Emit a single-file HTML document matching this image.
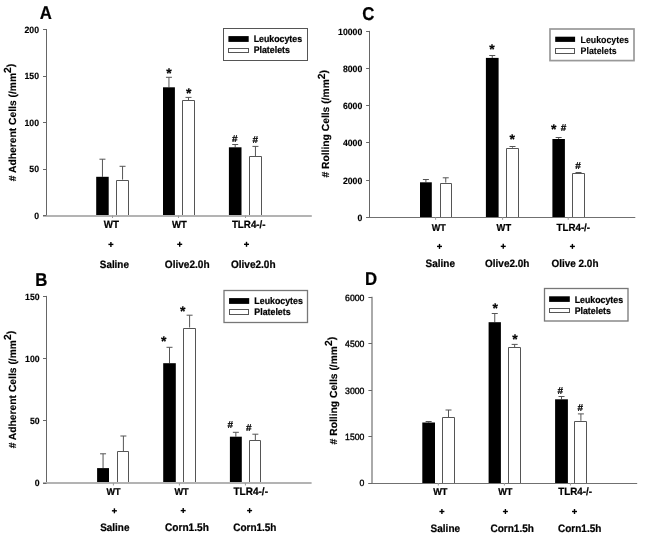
<!DOCTYPE html>
<html><head><meta charset="utf-8"><style>
html,body{margin:0;padding:0;background:#fff;}
svg{display:block;will-change:transform;}
text{font-family:"Liberation Sans", sans-serif;text-rendering:geometricPrecision;stroke:#000;stroke-width:0.22px;stroke-linejoin:round;}
</style></head><body>
<svg width="646" height="537" viewBox="0 0 646 537" font-family='"Liberation Sans", sans-serif'>
<rect width="646" height="537" fill="#fff"/>
<line x1="102.45" y1="176.80" x2="102.45" y2="159.20" stroke="#555" stroke-width="1"/>
<line x1="99.45" y1="159.20" x2="105.45" y2="159.20" stroke="#555" stroke-width="1"/>
<line x1="122.55" y1="179.60" x2="122.55" y2="166.30" stroke="#555" stroke-width="1"/>
<line x1="119.55" y1="166.30" x2="125.55" y2="166.30" stroke="#555" stroke-width="1"/>
<rect x="96.20" y="176.80" width="12.50" height="38.70" fill="#000"/>
<rect x="116.50" y="180.50" width="12.00" height="35.00" fill="#fff"/>
<path d="M116.50,216.00V180.50H128.50V216.00" fill="none" stroke="#555" stroke-width="1"/>
<line x1="168.95" y1="87.30" x2="168.95" y2="77.30" stroke="#555" stroke-width="1"/>
<line x1="165.95" y1="77.30" x2="171.95" y2="77.30" stroke="#555" stroke-width="1"/>
<line x1="188.50" y1="100.30" x2="188.50" y2="97.40" stroke="#555" stroke-width="1"/>
<line x1="185.50" y1="97.40" x2="191.50" y2="97.40" stroke="#555" stroke-width="1"/>
<rect x="163.00" y="87.30" width="11.90" height="128.20" fill="#000"/>
<rect x="182.50" y="100.50" width="12.00" height="115.00" fill="#fff"/>
<path d="M182.50,216.00V100.50H194.50V216.00" fill="none" stroke="#555" stroke-width="1"/>
<line x1="235.20" y1="147.30" x2="235.20" y2="144.50" stroke="#555" stroke-width="1"/>
<line x1="232.20" y1="144.50" x2="238.20" y2="144.50" stroke="#555" stroke-width="1"/>
<line x1="255.45" y1="156.50" x2="255.45" y2="146.40" stroke="#555" stroke-width="1"/>
<line x1="252.45" y1="146.40" x2="258.45" y2="146.40" stroke="#555" stroke-width="1"/>
<rect x="228.90" y="147.30" width="12.60" height="68.20" fill="#000"/>
<rect x="249.50" y="156.50" width="12.00" height="59.00" fill="#fff"/>
<path d="M249.50,216.00V156.50H261.50V216.00" fill="none" stroke="#555" stroke-width="1"/>
<line x1="46.50" y1="29.00" x2="46.50" y2="216.00" stroke="#666" stroke-width="1"/>
<line x1="43.00" y1="216.00" x2="311.80" y2="216.00" stroke="#b3b3b3" stroke-width="2"/>
<line x1="43.00" y1="215.50" x2="46.50" y2="215.50" stroke="#666" stroke-width="1"/>
<text transform="translate(34.18,218.90) scale(1,1.05)" font-size="8.70" font-weight="bold" style="stroke-width:0.15px">0</text>
<line x1="43.00" y1="169.50" x2="46.50" y2="169.50" stroke="#666" stroke-width="1"/>
<text transform="translate(29.34,172.40) scale(1,1.05)" font-size="8.70" font-weight="bold" style="stroke-width:0.15px">50</text>
<line x1="43.00" y1="122.50" x2="46.50" y2="122.50" stroke="#666" stroke-width="1"/>
<text transform="translate(24.50,125.90) scale(1,1.05)" font-size="8.70" font-weight="bold" style="stroke-width:0.15px">100</text>
<line x1="43.00" y1="76.50" x2="46.50" y2="76.50" stroke="#666" stroke-width="1"/>
<text transform="translate(24.50,79.40) scale(1,1.05)" font-size="8.70" font-weight="bold" style="stroke-width:0.15px">150</text>
<line x1="43.00" y1="29.50" x2="46.50" y2="29.50" stroke="#666" stroke-width="1"/>
<text transform="translate(24.50,32.90) scale(1,1.05)" font-size="8.70" font-weight="bold" style="stroke-width:0.15px">200</text>
<line x1="112.50" y1="215.50" x2="112.50" y2="218.00" stroke="#999" stroke-width="1"/>
<line x1="178.50" y1="215.50" x2="178.50" y2="218.00" stroke="#999" stroke-width="1"/>
<line x1="245.50" y1="215.50" x2="245.50" y2="218.00" stroke="#999" stroke-width="1"/>
<text x="166.27" y="77.54" font-size="14.00" font-weight="bold">*</text>
<text x="186.02" y="97.54" font-size="14.00" font-weight="bold">*</text>
<text x="231.95" y="142.10" font-size="10.00" font-weight="bold">#</text>
<text x="252.45" y="142.80" font-size="10.00" font-weight="bold">#</text>
<rect x="223.50" y="28.50" width="84.00" height="32.00" fill="#fff" stroke="#555" stroke-width="1"/>
<rect x="228.40" y="36.10" width="20.30" height="5.80" fill="#000"/>
<rect x="228.50" y="48.50" width="20.00" height="4.00" fill="#fff" stroke="#555" stroke-width="1"/>
<text transform="translate(253.67,42.00) scale(1,1.08)" font-size="8.80" font-weight="bold">Leukocytes</text>
<text transform="translate(253.67,53.00) scale(1,1.08)" font-size="8.80" font-weight="bold">Platelets</text>
<text transform="translate(103.80,228.00) scale(1,1.08)" font-size="9.78" font-weight="bold">WT</text>
<text transform="translate(172.00,228.00) scale(1,1.08)" font-size="9.52" font-weight="bold">WT</text>
<text transform="translate(231.90,228.00) scale(1,1.08)" font-size="9.79" font-weight="bold">TLR4-/-</text>
<text transform="translate(99.80,267.60) scale(1,1.08)" font-size="9.90" font-weight="bold">Saline</text>
<text transform="translate(164.80,267.60) scale(1,1.08)" font-size="10.08" font-weight="bold">Olive2.0h</text>
<text transform="translate(230.90,267.60) scale(1,1.08)" font-size="10.06" font-weight="bold">Olive2.0h</text>
<line x1="108.40" y1="244.40" x2="113.40" y2="244.40" stroke="#000" stroke-width="1.4"/>
<line x1="110.90" y1="241.90" x2="110.90" y2="246.90" stroke="#000" stroke-width="1.4"/>
<line x1="177.20" y1="244.30" x2="182.20" y2="244.30" stroke="#000" stroke-width="1.4"/>
<line x1="179.70" y1="241.80" x2="179.70" y2="246.80" stroke="#000" stroke-width="1.4"/>
<line x1="244.00" y1="244.30" x2="249.00" y2="244.30" stroke="#000" stroke-width="1.4"/>
<line x1="246.50" y1="241.80" x2="246.50" y2="246.80" stroke="#000" stroke-width="1.4"/>
<text transform="translate(39.76,18.60) scale(1,1.1)" font-size="16.80" font-weight="bold">A</text>
<text transform="translate(16.00,122.50) rotate(-90)" text-anchor="middle" font-size="10.3" font-weight="bold" style="stroke-width:0.15px"># Adherent Cells (/mm<tspan font-size="10.3" dy="-4.8">2</tspan><tspan font-size="10.3" dy="2.3">)</tspan></text>
<line x1="425.90" y1="182.30" x2="425.90" y2="179.50" stroke="#555" stroke-width="1"/>
<line x1="422.90" y1="179.50" x2="428.90" y2="179.50" stroke="#555" stroke-width="1"/>
<line x1="445.75" y1="182.60" x2="445.75" y2="177.80" stroke="#555" stroke-width="1"/>
<line x1="442.75" y1="177.80" x2="448.75" y2="177.80" stroke="#555" stroke-width="1"/>
<rect x="420.00" y="182.30" width="11.80" height="35.00" fill="#000"/>
<rect x="440.50" y="183.50" width="11.00" height="33.80" fill="#fff"/>
<path d="M440.50,217.50V183.50H451.50V217.50" fill="none" stroke="#555" stroke-width="1"/>
<line x1="492.25" y1="57.90" x2="492.25" y2="55.50" stroke="#555" stroke-width="1"/>
<line x1="489.25" y1="55.50" x2="495.25" y2="55.50" stroke="#555" stroke-width="1"/>
<line x1="512.50" y1="147.70" x2="512.50" y2="146.50" stroke="#555" stroke-width="1"/>
<line x1="509.50" y1="146.50" x2="515.50" y2="146.50" stroke="#555" stroke-width="1"/>
<rect x="485.90" y="57.90" width="12.70" height="159.40" fill="#000"/>
<rect x="506.50" y="148.50" width="12.00" height="68.80" fill="#fff"/>
<path d="M506.50,217.50V148.50H518.50V217.50" fill="none" stroke="#555" stroke-width="1"/>
<line x1="558.65" y1="139.00" x2="558.65" y2="137.50" stroke="#555" stroke-width="1"/>
<line x1="555.65" y1="137.50" x2="561.65" y2="137.50" stroke="#555" stroke-width="1"/>
<line x1="578.50" y1="173.30" x2="578.50" y2="172.50" stroke="#555" stroke-width="1"/>
<line x1="575.50" y1="172.50" x2="581.50" y2="172.50" stroke="#555" stroke-width="1"/>
<rect x="552.40" y="139.00" width="12.50" height="78.30" fill="#000"/>
<rect x="572.50" y="173.50" width="12.00" height="43.80" fill="#fff"/>
<path d="M572.50,217.50V173.50H584.50V217.50" fill="none" stroke="#555" stroke-width="1"/>
<line x1="369.50" y1="30.90" x2="369.50" y2="217.50" stroke="#666" stroke-width="1"/>
<line x1="366.10" y1="217.50" x2="635.30" y2="217.50" stroke="#707070" stroke-width="1"/>
<line x1="366.10" y1="217.50" x2="369.50" y2="217.50" stroke="#666" stroke-width="1"/>
<text transform="translate(357.48,220.70) scale(1,1.05)" font-size="8.70" font-weight="bold" style="stroke-width:0.15px">0</text>
<line x1="366.10" y1="180.50" x2="369.50" y2="180.50" stroke="#666" stroke-width="1"/>
<text transform="translate(342.96,183.52) scale(1,1.05)" font-size="8.70" font-weight="bold" style="stroke-width:0.15px">2000</text>
<line x1="366.10" y1="142.50" x2="369.50" y2="142.50" stroke="#666" stroke-width="1"/>
<text transform="translate(342.96,146.34) scale(1,1.05)" font-size="8.70" font-weight="bold" style="stroke-width:0.15px">4000</text>
<line x1="366.10" y1="105.50" x2="369.50" y2="105.50" stroke="#666" stroke-width="1"/>
<text transform="translate(342.96,109.16) scale(1,1.05)" font-size="8.70" font-weight="bold" style="stroke-width:0.15px">6000</text>
<line x1="366.10" y1="68.50" x2="369.50" y2="68.50" stroke="#666" stroke-width="1"/>
<text transform="translate(342.96,71.98) scale(1,1.05)" font-size="8.70" font-weight="bold" style="stroke-width:0.15px">8000</text>
<line x1="366.10" y1="31.50" x2="369.50" y2="31.50" stroke="#666" stroke-width="1"/>
<text transform="translate(338.12,34.80) scale(1,1.05)" font-size="8.70" font-weight="bold" style="stroke-width:0.15px">10000</text>
<line x1="435.60" y1="217.30" x2="435.60" y2="219.80" stroke="#999" stroke-width="1"/>
<line x1="502.60" y1="217.30" x2="502.60" y2="219.80" stroke="#999" stroke-width="1"/>
<line x1="568.20" y1="217.30" x2="568.20" y2="219.80" stroke="#999" stroke-width="1"/>
<text x="489.27" y="54.44" font-size="14.00" font-weight="bold">*</text>
<text x="509.57" y="144.44" font-size="14.00" font-weight="bold">*</text>
<text x="550.92" y="134.34" font-size="14.00" font-weight="bold">*</text>
<text x="560.85" y="130.80" font-size="10.00" font-weight="bold">#</text>
<text x="575.20" y="168.50" font-size="10.00" font-weight="bold">#</text>
<rect x="550.00" y="29.00" width="84.00" height="31.60" fill="#fff" stroke="#999" stroke-width="1.7"/>
<rect x="555.20" y="36.70" width="19.90" height="5.20" fill="#000"/>
<rect x="555.50" y="48.50" width="19.00" height="5.00" fill="#fff" stroke="#555" stroke-width="1"/>
<text transform="translate(580.57,42.50) scale(1,1.08)" font-size="8.80" font-weight="bold" style="stroke-width:0.1px">Leukocytes</text>
<text transform="translate(580.57,53.70) scale(1,1.08)" font-size="8.80" font-weight="bold" style="stroke-width:0.1px">Platelets</text>
<text transform="translate(431.80,230.70) scale(1,1.08)" font-size="9.07" font-weight="bold">WT</text>
<text transform="translate(496.60,230.70) scale(1,1.08)" font-size="9.33" font-weight="bold">WT</text>
<text transform="translate(556.50,230.50) scale(1,1.08)" font-size="9.76" font-weight="bold">TLR4-/-</text>
<text transform="translate(425.60,266.80) scale(1,1.08)" font-size="9.97" font-weight="bold">Saline</text>
<text transform="translate(485.10,266.80) scale(1,1.08)" font-size="9.96" font-weight="bold">Olive2.0h</text>
<text transform="translate(551.50,266.80) scale(1,1.08)" font-size="9.95" font-weight="bold">Olive 2.0h</text>
<line x1="437.00" y1="246.40" x2="442.00" y2="246.40" stroke="#000" stroke-width="1.4"/>
<line x1="439.50" y1="243.90" x2="439.50" y2="248.90" stroke="#000" stroke-width="1.4"/>
<line x1="500.75" y1="246.35" x2="505.75" y2="246.35" stroke="#000" stroke-width="1.4"/>
<line x1="503.25" y1="243.85" x2="503.25" y2="248.85" stroke="#000" stroke-width="1.4"/>
<line x1="569.90" y1="246.40" x2="574.90" y2="246.40" stroke="#000" stroke-width="1.4"/>
<line x1="572.40" y1="243.90" x2="572.40" y2="248.90" stroke="#000" stroke-width="1.4"/>
<text transform="translate(362.13,19.80) scale(1,1.1)" font-size="16.80" font-weight="bold">C</text>
<text transform="translate(329.30,123.80) rotate(-90)" text-anchor="middle" font-size="10.3" font-weight="bold" style="stroke-width:0.15px"># Rolling Cells (/mm<tspan font-size="10.3" dy="-4.8">2</tspan><tspan font-size="10.3" dy="2.3">)</tspan></text>
<line x1="103.05" y1="468.10" x2="103.05" y2="453.80" stroke="#555" stroke-width="1"/>
<line x1="100.05" y1="453.80" x2="106.05" y2="453.80" stroke="#555" stroke-width="1"/>
<line x1="123.40" y1="451.40" x2="123.40" y2="436.00" stroke="#555" stroke-width="1"/>
<line x1="120.40" y1="436.00" x2="126.40" y2="436.00" stroke="#555" stroke-width="1"/>
<rect x="97.10" y="468.10" width="11.90" height="14.90" fill="#000"/>
<rect x="117.50" y="451.50" width="11.00" height="31.50" fill="#fff"/>
<path d="M117.50,483.00V451.50H128.50V483.00" fill="none" stroke="#555" stroke-width="1"/>
<line x1="169.50" y1="363.20" x2="169.50" y2="347.30" stroke="#555" stroke-width="1"/>
<line x1="166.50" y1="347.30" x2="172.50" y2="347.30" stroke="#555" stroke-width="1"/>
<line x1="189.60" y1="327.50" x2="189.60" y2="315.20" stroke="#555" stroke-width="1"/>
<line x1="186.60" y1="315.20" x2="192.60" y2="315.20" stroke="#555" stroke-width="1"/>
<rect x="163.20" y="363.20" width="12.60" height="119.80" fill="#000"/>
<rect x="183.50" y="328.50" width="12.00" height="154.50" fill="#fff"/>
<path d="M183.50,483.00V328.50H195.50V483.00" fill="none" stroke="#555" stroke-width="1"/>
<line x1="235.85" y1="436.70" x2="235.85" y2="432.30" stroke="#555" stroke-width="1"/>
<line x1="232.85" y1="432.30" x2="238.85" y2="432.30" stroke="#555" stroke-width="1"/>
<line x1="255.35" y1="440.20" x2="255.35" y2="434.20" stroke="#555" stroke-width="1"/>
<line x1="252.35" y1="434.20" x2="258.35" y2="434.20" stroke="#555" stroke-width="1"/>
<rect x="229.90" y="436.70" width="11.90" height="46.30" fill="#000"/>
<rect x="249.50" y="440.50" width="11.00" height="42.50" fill="#fff"/>
<path d="M249.50,483.00V440.50H260.50V483.00" fill="none" stroke="#555" stroke-width="1"/>
<line x1="46.50" y1="295.90" x2="46.50" y2="483.00" stroke="#666" stroke-width="1"/>
<line x1="43.00" y1="483.00" x2="311.60" y2="483.00" stroke="#b3b3b3" stroke-width="2"/>
<line x1="43.00" y1="483.50" x2="46.50" y2="483.50" stroke="#666" stroke-width="1"/>
<text transform="translate(34.78,486.40) scale(1,1.05)" font-size="8.70" font-weight="bold" style="stroke-width:0.15px">0</text>
<line x1="43.00" y1="420.50" x2="46.50" y2="420.50" stroke="#666" stroke-width="1"/>
<text transform="translate(29.94,424.20) scale(1,1.05)" font-size="8.70" font-weight="bold" style="stroke-width:0.15px">50</text>
<line x1="43.00" y1="358.50" x2="46.50" y2="358.50" stroke="#666" stroke-width="1"/>
<text transform="translate(25.10,362.00) scale(1,1.05)" font-size="8.70" font-weight="bold" style="stroke-width:0.15px">100</text>
<line x1="43.00" y1="296.50" x2="46.50" y2="296.50" stroke="#666" stroke-width="1"/>
<text transform="translate(25.10,299.80) scale(1,1.05)" font-size="8.70" font-weight="bold" style="stroke-width:0.15px">150</text>
<line x1="113.40" y1="483.00" x2="113.40" y2="485.50" stroke="#999" stroke-width="1"/>
<line x1="179.40" y1="483.00" x2="179.40" y2="485.50" stroke="#999" stroke-width="1"/>
<line x1="245.40" y1="483.00" x2="245.40" y2="485.50" stroke="#999" stroke-width="1"/>
<text x="161.07" y="346.04" font-size="14.00" font-weight="bold">*</text>
<text x="180.02" y="316.24" font-size="14.00" font-weight="bold">*</text>
<text x="227.50" y="428.40" font-size="10.00" font-weight="bold">#</text>
<text x="246.05" y="431.20" font-size="10.00" font-weight="bold">#</text>
<rect x="224.00" y="290.50" width="83.50" height="32.00" fill="#fff" stroke="#777" stroke-width="1.3"/>
<rect x="229.05" y="298.10" width="20.15" height="5.80" fill="#000"/>
<rect x="229.50" y="309.50" width="19.00" height="5.00" fill="#fff" stroke="#555" stroke-width="1"/>
<text transform="translate(254.37,304.00) scale(1,1.08)" font-size="8.80" font-weight="bold">Leukocytes</text>
<text transform="translate(254.37,315.20) scale(1,1.08)" font-size="8.80" font-weight="bold">Platelets</text>
<text transform="translate(106.40,494.90) scale(1,1.08)" font-size="9.07" font-weight="bold">WT</text>
<text transform="translate(174.40,494.90) scale(1,1.08)" font-size="9.20" font-weight="bold">WT</text>
<text transform="translate(233.50,494.90) scale(1,1.08)" font-size="10.03" font-weight="bold">TLR4-/-</text>
<text transform="translate(100.20,531.10) scale(1,1.08)" font-size="9.93" font-weight="bold">Saline</text>
<text transform="translate(164.99,531.10) scale(1,1.08)" font-size="10.13" font-weight="bold">Corn1.5h</text>
<text transform="translate(233.20,531.10) scale(1,1.08)" font-size="9.99" font-weight="bold">Corn1.5h</text>
<line x1="111.90" y1="510.80" x2="116.90" y2="510.80" stroke="#000" stroke-width="1.4"/>
<line x1="114.40" y1="508.30" x2="114.40" y2="513.30" stroke="#000" stroke-width="1.4"/>
<line x1="180.70" y1="510.60" x2="185.70" y2="510.60" stroke="#000" stroke-width="1.4"/>
<line x1="183.20" y1="508.10" x2="183.20" y2="513.10" stroke="#000" stroke-width="1.4"/>
<line x1="247.10" y1="510.60" x2="252.10" y2="510.60" stroke="#000" stroke-width="1.4"/>
<line x1="249.60" y1="508.10" x2="249.60" y2="513.10" stroke="#000" stroke-width="1.4"/>
<text transform="translate(35.19,285.70) scale(1,1.1)" font-size="16.80" font-weight="bold">B</text>
<text transform="translate(16.00,389.60) rotate(-90)" text-anchor="middle" font-size="10.3" font-weight="bold" style="stroke-width:0.15px"># Adherent Cells (/mm<tspan font-size="10.3" dy="-4.8">2</tspan><tspan font-size="10.3" dy="2.3">)</tspan></text>
<line x1="428.65" y1="422.50" x2="428.65" y2="421.50" stroke="#555" stroke-width="1"/>
<line x1="425.65" y1="421.50" x2="431.65" y2="421.50" stroke="#555" stroke-width="1"/>
<line x1="448.50" y1="417.30" x2="448.50" y2="410.00" stroke="#555" stroke-width="1"/>
<line x1="445.50" y1="410.00" x2="451.50" y2="410.00" stroke="#555" stroke-width="1"/>
<rect x="422.30" y="422.50" width="12.70" height="60.50" fill="#000"/>
<rect x="442.50" y="417.50" width="12.00" height="65.50" fill="#fff"/>
<path d="M442.50,483.50V417.50H454.50V483.50" fill="none" stroke="#555" stroke-width="1"/>
<line x1="494.75" y1="322.20" x2="494.75" y2="313.50" stroke="#555" stroke-width="1"/>
<line x1="491.75" y1="313.50" x2="497.75" y2="313.50" stroke="#555" stroke-width="1"/>
<line x1="514.65" y1="347.30" x2="514.65" y2="344.40" stroke="#555" stroke-width="1"/>
<line x1="511.65" y1="344.40" x2="517.65" y2="344.40" stroke="#555" stroke-width="1"/>
<rect x="488.60" y="322.20" width="12.30" height="160.80" fill="#000"/>
<rect x="508.50" y="347.50" width="12.00" height="135.50" fill="#fff"/>
<path d="M508.50,483.50V347.50H520.50V483.50" fill="none" stroke="#555" stroke-width="1"/>
<line x1="561.50" y1="399.30" x2="561.50" y2="396.50" stroke="#555" stroke-width="1"/>
<line x1="558.50" y1="396.50" x2="564.50" y2="396.50" stroke="#555" stroke-width="1"/>
<line x1="580.90" y1="420.80" x2="580.90" y2="413.90" stroke="#555" stroke-width="1"/>
<line x1="577.90" y1="413.90" x2="583.90" y2="413.90" stroke="#555" stroke-width="1"/>
<rect x="555.10" y="399.30" width="12.80" height="83.70" fill="#000"/>
<rect x="574.50" y="421.50" width="12.00" height="61.50" fill="#fff"/>
<path d="M574.50,483.50V421.50H586.50V483.50" fill="none" stroke="#555" stroke-width="1"/>
<line x1="372.00" y1="296.70" x2="372.00" y2="483.50" stroke="#aaa" stroke-width="2"/>
<line x1="368.40" y1="483.50" x2="637.20" y2="483.50" stroke="#707070" stroke-width="1"/>
<line x1="368.40" y1="483.50" x2="372.00" y2="483.50" stroke="#666" stroke-width="1"/>
<text transform="translate(359.58,486.40) scale(1,1.05)" font-size="8.70" font-weight="normal" style="stroke-width:0.35px">0</text>
<line x1="368.40" y1="436.50" x2="372.00" y2="436.50" stroke="#666" stroke-width="1"/>
<text transform="translate(345.06,439.95) scale(1,1.05)" font-size="8.70" font-weight="normal" style="stroke-width:0.35px">1500</text>
<line x1="368.40" y1="390.50" x2="372.00" y2="390.50" stroke="#666" stroke-width="1"/>
<text transform="translate(345.06,393.50) scale(1,1.05)" font-size="8.70" font-weight="normal" style="stroke-width:0.35px">3000</text>
<line x1="368.40" y1="343.50" x2="372.00" y2="343.50" stroke="#666" stroke-width="1"/>
<text transform="translate(345.06,347.05) scale(1,1.05)" font-size="8.70" font-weight="normal" style="stroke-width:0.35px">4500</text>
<line x1="368.40" y1="297.50" x2="372.00" y2="297.50" stroke="#666" stroke-width="1"/>
<text transform="translate(345.06,300.60) scale(1,1.05)" font-size="8.70" font-weight="normal" style="stroke-width:0.35px">6000</text>
<line x1="438.30" y1="483.00" x2="438.30" y2="485.50" stroke="#999" stroke-width="1"/>
<line x1="504.40" y1="483.00" x2="504.40" y2="485.50" stroke="#999" stroke-width="1"/>
<line x1="570.40" y1="483.00" x2="570.40" y2="485.50" stroke="#999" stroke-width="1"/>
<text x="492.47" y="312.74" font-size="14.00" font-weight="bold">*</text>
<text x="512.27" y="344.04" font-size="14.00" font-weight="bold">*</text>
<text x="557.55" y="393.70" font-size="10.00" font-weight="bold">#</text>
<text x="577.45" y="411.10" font-size="10.00" font-weight="bold">#</text>
<rect x="544.50" y="288.50" width="83.50" height="32.50" fill="#fff" stroke="#777" stroke-width="1.3"/>
<rect x="549.10" y="296.30" width="20.70" height="5.60" fill="#000"/>
<rect x="549.50" y="308.50" width="20.00" height="4.00" fill="#fff" stroke="#555" stroke-width="1"/>
<text transform="translate(574.67,302.60) scale(1,1.08)" font-size="8.80" font-weight="bold">Leukocytes</text>
<text transform="translate(574.67,313.60) scale(1,1.08)" font-size="8.80" font-weight="bold">Platelets</text>
<text transform="translate(433.20,495.40) scale(1,1.08)" font-size="9.20" font-weight="bold">WT</text>
<text transform="translate(498.20,495.40) scale(1,1.08)" font-size="9.20" font-weight="bold">WT</text>
<text transform="translate(558.30,495.40) scale(1,1.08)" font-size="9.82" font-weight="bold">TLR4-/-</text>
<text transform="translate(430.60,531.70) scale(1,1.08)" font-size="10.00" font-weight="bold">Saline</text>
<text transform="translate(490.40,531.70) scale(1,1.08)" font-size="10.06" font-weight="bold">Corn1.5h</text>
<text transform="translate(558.00,531.70) scale(1,1.08)" font-size="10.02" font-weight="bold">Corn1.5h</text>
<line x1="439.40" y1="511.50" x2="444.40" y2="511.50" stroke="#000" stroke-width="1.4"/>
<line x1="441.90" y1="509.00" x2="441.90" y2="514.00" stroke="#000" stroke-width="1.4"/>
<line x1="502.90" y1="511.50" x2="507.90" y2="511.50" stroke="#000" stroke-width="1.4"/>
<line x1="505.40" y1="509.00" x2="505.40" y2="514.00" stroke="#000" stroke-width="1.4"/>
<line x1="572.00" y1="511.50" x2="577.00" y2="511.50" stroke="#000" stroke-width="1.4"/>
<line x1="574.50" y1="509.00" x2="574.50" y2="514.00" stroke="#000" stroke-width="1.4"/>
<text transform="translate(365.09,285.10) scale(1,1.1)" font-size="16.80" font-weight="bold">D</text>
<text transform="translate(337.00,390.60) rotate(-90)" text-anchor="middle" font-size="10.3" font-weight="bold" style="stroke-width:0.15px"># Rolling Cells (/mm<tspan font-size="10.3" dy="-4.8">2</tspan><tspan font-size="10.3" dy="2.3">)</tspan></text>
</svg>
</body></html>
